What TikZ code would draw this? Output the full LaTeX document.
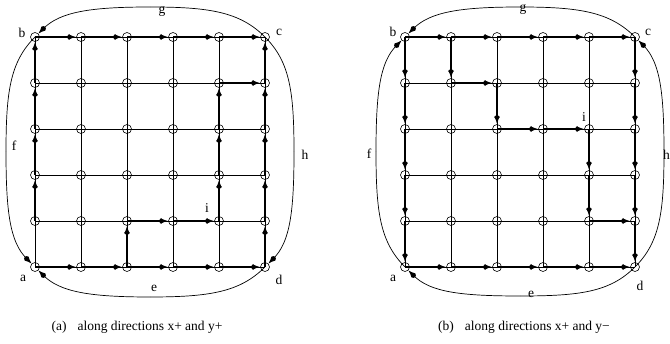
\documentclass[tikz,border=0pt]{standalone}
\usepackage{fontspec}
\setmainfont{Liberation Serif}
\usetikzlibrary{arrows.meta}
\begin{document}
\begin{tikzpicture}[x=1pt,y=1pt,
  vtx/.style={circle,draw,inner sep=0pt,minimum size=9pt,line width=0.6pt},
  gridline/.style={line width=0.6pt},
  tipshape/.style={-{Circle[length=5pt,sep=-3pt] Latex[length=7.5pt,width=5.5pt]}},
  arr/.style={line width=1.3pt,tipshape},
  loopline/.style={line width=0.7pt},
  looparr/.style={line width=0.7pt,tipshape},
  lab/.style={font=\fontsize{13.5}{14}\selectfont,inner sep=0pt},
  captxt/.style={font=\fontsize{13.5}{14}\selectfont,inner sep=0pt,anchor=base}]
\useasboundingbox (0,0) rectangle (670,344);
% vertices
\foreach \r in {1,...,6}{
  \foreach \c in {1,...,6}{
    \node[vtx] (A\r\c) at ({35+46*(\c-1)},{307-46*(\r-1)}) {};
    \node[vtx] (B\r\c) at ({405+46*(\c-1)},{307-46*(\r-1)}) {};
  }
}
% grid lines
\foreach \k in {1,...,6}{
  \draw[gridline] (A\k1.center) -- (A\k6.center);
  \draw[gridline] (A1\k.center) -- (A6\k.center);
  \draw[gridline] (B\k1.center) -- (B\k6.center);
  \draw[gridline] (B1\k.center) -- (B6\k.center);
}
% directed edges (a)
\foreach \s/\t in {11/12,12/13,13/14,14/15,15/16,25/26,53/54,54/55,
  61/62,62/63,63/64,64/65,65/66,21/11,31/21,41/31,51/41,63/53,
  35/25,45/35,55/45,26/16,36/26,46/36,56/46,66/56}
  \draw[arr] (A\s.center) -- (A\t);
% directed edges (b)
\foreach \s/\t in {11/12,12/13,13/14,14/15,15/16,22/23,33/34,34/35,55/56,
  61/62,62/63,63/64,64/65,65/66,11/21,21/31,31/41,41/51,51/61,12/22,
  23/33,35/45,45/55,16/26,26/36,36/46,46/56,56/66}
  \draw[arr] (B\s.center) -- (B\t);
% outer loop (a)
\coordinate (Ag) at (150,337);
\coordinate (Ah) at (294,192);
\coordinate (Ae) at (150,47);
\coordinate (Af) at (6,192);
\draw[looparr] (Ag) .. controls +(-60,0) and +(25,25) .. (A11);
\draw[loopline] (Ag) .. controls +(60,0) and +(-25,25) .. (A16.center);
\draw[loopline] (Ah) .. controls +(0,60) and +(25,-25) .. (A16.center);
\draw[looparr] (Ah) .. controls +(0,-60) and +(25,25) .. (A66);
\draw[loopline] (Ae) .. controls +(60,0) and +(-25,-25) .. (A66.center);
\draw[looparr] (Ae) .. controls +(-60,0) and +(25,-25) .. (A61);
\draw[looparr] (Af) .. controls +(0,-60) and +(-25,25) .. (A61);
\draw[loopline] (Af) .. controls +(0,60) and +(-25,-25) .. (A11.center);
% outer loop (b)
\coordinate (Bg) at (520,337);
\coordinate (Bh) at (664,192);
\coordinate (Be) at (520,48);
\coordinate (Bf) at (376,192);
\draw[looparr] (Bg) .. controls +(-60,0) and +(25,25) .. (B11);
\draw[loopline] (Bg) .. controls +(60,0) and +(-25,25) .. (B16.center);
\draw[looparr] (Bh) .. controls +(0,60) and +(25,-25) .. (B16);
\draw[loopline] (Bh) .. controls +(0,-60) and +(25,25) .. (B66.center);
\draw[loopline] (Be) .. controls +(60,0) and +(-25,-25) .. (B66.center);
\draw[looparr] (Be) .. controls +(-60,0) and +(25,-25) .. (B61);
\draw[loopline] (Bf) .. controls +(0,-60) and +(-25,25) .. (B61.center);
\draw[looparr] (Bf) .. controls +(0,60) and +(-25,-25) .. (B11);
% labels (a)
\node[lab] (la) at (23,66) {a};
\node[lab] (lb) at (22,311) {b};
\node[lab] (lc) at (279,312) {c};
\node[lab] (ld) at (279,64) {d};
\node[lab] (le) at (154,56) {e};
\node[lab] (lf) at (14,198) {f};
\node[lab] (lg) at (162,332) {g};
\node[lab] (lh) at (305,189) {h};
\node[lab] (li) at (207,136) {i};
% labels (b)
\node[lab] (ma) at (393,66) {a};
\node[lab] (mb) at (393,312) {b};
\node[lab] (mc) at (648,312) {c};
\node[lab] (md) at (640,58) {d};
\node[lab] (me) at (531,50) {e};
\node[lab] (mf) at (369,190) {f};
\node[lab] (mg) at (523,334) {g};
\node[lab] (mh) at (666.5,189) {h};
\node[lab] (mi) at (584,227) {i};
% captions
\node[captxt] (capa) at (137,13) {(a)\hspace{11pt}along directions x+ and y+};
\node[captxt] (capb) at (524,13) {(b)\hspace{11pt}along directions x+ and y−};
\end{tikzpicture}
\end{document}
